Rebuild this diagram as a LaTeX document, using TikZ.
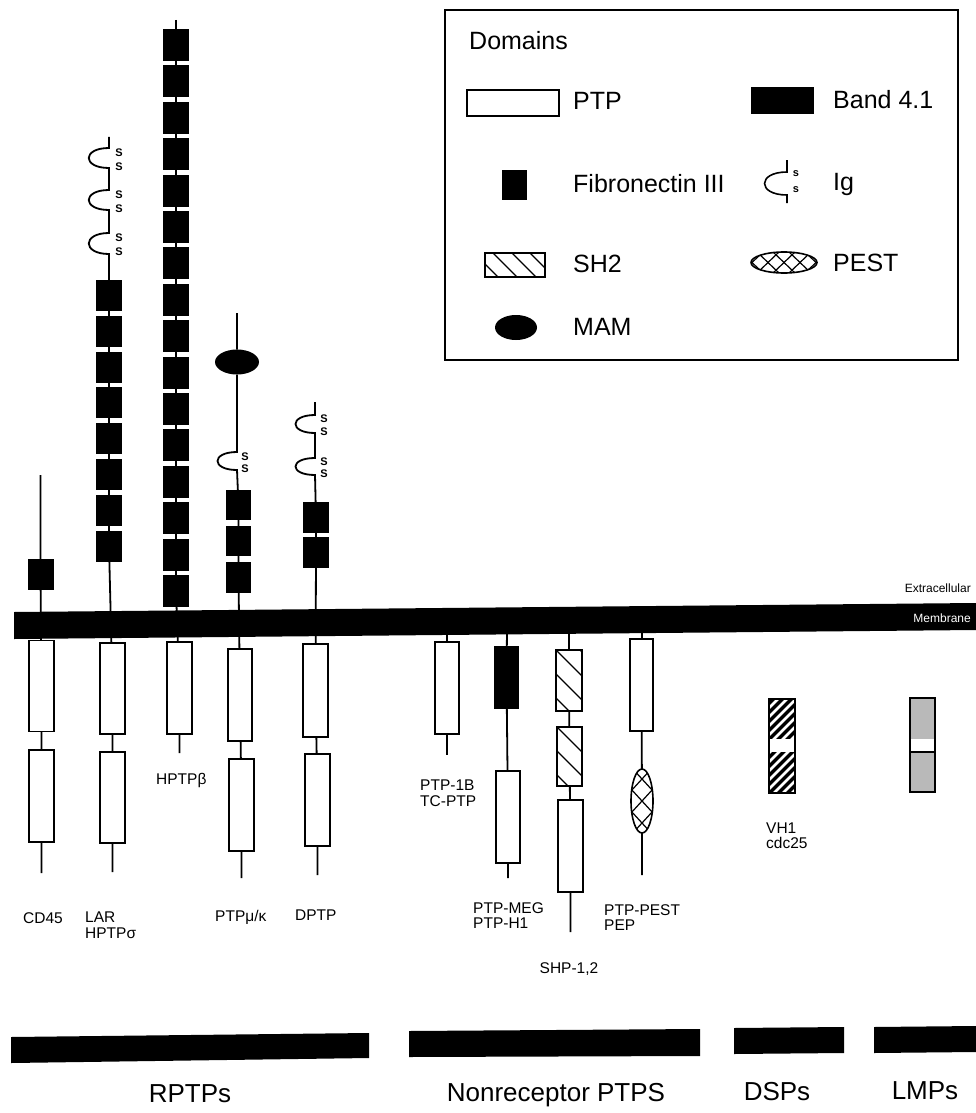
\documentclass[tikz,border=0pt]{standalone}
\usepackage{fontspec}
\setmainfont{Liberation Sans}
\usetikzlibrary{shapes.geometric}
\begin{document}
\begin{tikzpicture}[x=1pt,y=-1pt,
  stemline/.style={line width=1.8pt},
  dombox/.style={draw, line width=1.8pt, fill=white, inner sep=0pt, outer sep=0pt, minimum width=25pt, minimum height=92pt},
  fnbox/.style={fill=black, inner sep=0pt, outer sep=0pt, minimum width=26pt, minimum height=31pt},
  bandbox/.style={draw, fill=black, line width=1.5pt, inner sep=0pt, outer sep=0pt},
  hatchbox/.style={draw, line width=1.8pt, inner sep=0pt, outer sep=0pt},
  mamshape/.style={ellipse, fill=black, inner sep=0pt, outer sep=0pt},
  pestshape/.style={ellipse, draw, line width=1.6pt, inner sep=0pt, outer sep=0pt},
  hatchline/.style={line width=1.2pt},
  lbl/.style={font=\fontsize{15.5}{18}\selectfont, inner sep=0pt, anchor=base west},
  leg/.style={font=\fontsize{25}{30}\selectfont, inner sep=0pt, anchor=base west},
  grp/.style={font=\fontsize{26}{30}\selectfont, inner sep=0pt, anchor=base},
  sletter/.style={font=\bfseries\fontsize{11}{11}\selectfont, inner sep=0pt},
  memtext/.style={font=\fontsize{12}{12}\selectfont, inner sep=0pt, anchor=east}
]
\useasboundingbox (0,0) rectangle (976,1113);

% ---------------- membrane ----------------
\fill (14,612) -- (976,603) -- (976,630) -- (14,639) -- cycle;
\node[memtext, text=white] (memlbl) at (971,618) {Membrane};
\node[memtext] (extlbl) at (971,588) {Extracellular};

% ---------------- hatching (drawn first) ----------------
\begin{scope}
  \clip (556,650) rectangle (582,711);
  \foreach \t in {-24,0,24,48} \draw[hatchline] (556,{650+\t}) -- ++(26,26);
\end{scope}
\begin{scope}
  \clip (557,727) rectangle (582,786);
  \foreach \t in {-24,0,24,48} \draw[hatchline] (557,{727+\t}) -- ++(26,26);
\end{scope}
\begin{scope}
  \clip (485,253) rectangle (545,277);
  \foreach \t in {474,493,512,530} \draw[hatchline] (\t,253) -- ++(24,24);
\end{scope}
% VH1
\fill (769,699) rectangle (795,793);
\begin{scope}
  \clip (769,699) rectangle (795,793);
  \foreach \t in {0,9,...,126} \draw[white, line width=2.6pt] (769,{699+\t}) -- ++(26,-26);
\end{scope}
\fill[white] (769,739) rectangle (795,752);
% LMP
\fill[gray!55] (910,698) rectangle (935,792);
\fill[white] (910,739) rectangle (935,752);
\draw[line width=1.5pt] (910,752) -- (935,752);
% PEST vertical
\begin{scope}
  \clip (642,801) ellipse [x radius=11, y radius=32];
  \foreach \t in {-56,-34,-12,10,32} {
    \draw[hatchline] (631,{801+\t}) -- (653,{801+\t+24});
    \draw[hatchline] (653,{801+\t}) -- (631,{801+\t+24});
  }
\end{scope}
% PEST legend
\begin{scope}
  \clip (784,262.5) ellipse [x radius=33, y radius=10.5];
  \foreach \t in {-48,-32,-16,0,16,32,48} {
    \draw[hatchline] ({784+\t-12},251) -- ({784+\t+12},274);
    \draw[hatchline] ({784+\t+12},251) -- ({784+\t-12},274);
  }
\end{scope}

% ---------------- CD45 ----------------
\coordinate (cdtop) at (40.5,475);
\node[fnbox] (cdfn) at (40.5,574.5) {};
\node[dombox, minimum height=91pt] (cda) at (41.5,686) {};
\node[dombox] (cdb) at (41.5,796) {};
\coordinate (cdend) at (41.5,873);
\draw[stemline] (cdtop) -- (cdfn) -- (cda) -- (cdb) -- (cdend);

% ---------------- LAR ----------------
\coordinate (lartop) at (109,137);
\foreach \i in {0,...,7} \node[fnbox] (lar\i) at (109,{295.5+\i*35.8}) {};
\draw[stemline] (lartop) -- (109,148) .. controls (82,148) and (82,168) .. (109,168)
  -- (109,190) .. controls (82,190) and (82,210) .. (109,210)
  -- (109,233) .. controls (82,233) and (82,254) .. (109,254) -- (lar0);
\foreach \i [evaluate=\i as \j using int(\i+1)] in {0,...,6} \draw[stemline] (lar\i) -- (lar\j);
\foreach \y in {153,167,195,209,238,252} \node[sletter] (lars\y) at (119,\y) {S};
\node[dombox, minimum height=91pt] (lara) at (112.5,688.5) {};
\node[dombox, minimum height=91pt] (larb) at (112.5,797.5) {};
\coordinate (larend) at (112.5,872);
\draw[stemline] (lar7) -- (lara) -- (larb) -- (larend);

% ---------------- HPTPbeta ----------------
\coordinate (hbtop) at (176,20);
\foreach \i in {0,...,15} \node[fnbox, minimum height=32pt] (hb\i) at (176,{45+\i*36.4}) {};
\draw[stemline] (hbtop) -- (hb0);
\foreach \i [evaluate=\i as \j using int(\i+1)] in {0,...,14} \draw[stemline] (hb\i) -- (hb\j);
\node[dombox] (hba) at (179.5,688) {};
\coordinate (hbend) at (179.5,753);
\draw[stemline] (hb15) -- (hba) -- (hbend);

% ---------------- PTPmu/kappa ----------------
\coordinate (mutop) at (237,313);
\node[mamshape, minimum width=44pt, minimum height=25pt] (mumam) at (237,362) {};
\node[fnbox, minimum width=25pt, minimum height=30pt] (mu0) at (238.5,505) {};
\node[fnbox, minimum width=25pt, minimum height=30pt] (mu1) at (238.5,541) {};
\node[fnbox, minimum width=25pt, minimum height=31pt] (mu2) at (238.5,577.5) {};
\node[dombox, minimum width=24pt] (mua) at (240,695) {};
\node[dombox] (mub) at (241.5,805) {};
\coordinate (muend) at (241.5,878);
\draw[stemline] (mutop) -- (mumam) -- (237,452) .. controls (211,452) and (211,470) .. (237,470)
  -- (mu0) -- (mu1) -- (mu2) -- (mua) -- (mub) -- (muend);
\node[sletter] (mus1) at (245,457) {S};
\node[sletter] (mus2) at (245,469) {S};

% ---------------- DPTP ----------------
\coordinate (dptop) at (315,402);
\node[fnbox] (dp0) at (316,517.5) {};
\node[fnbox] (dp1) at (316,552.5) {};
\node[dombox, minimum height=93pt] (dpa) at (315.5,690.5) {};
\node[dombox] (dpb) at (317.5,800) {};
\coordinate (dpend) at (317.5,875);
\draw[stemline] (dptop) -- (315,415) .. controls (289,415) and (289,433) .. (315,433)
  -- (315,458) .. controls (289,458) and (289,475) .. (315,475)
  -- (dp0) -- (dp1) -- (dpa) -- (dpb) -- (dpend);
\foreach \y in {419,432,462,474} \node[sletter] (dps\y) at (324,\y) {S};

% ---------------- PTP-1B ----------------
\coordinate (n1m) at (447,630);
\node[dombox, minimum width=24pt] (n1a) at (447,688) {};
\coordinate (n1end) at (447,755);
\draw[stemline] (n1m) -- (n1a) -- (n1end);

% ---------------- PTP-MEG ----------------
\coordinate (megm) at (507,630);
\node[bandbox, minimum width=24pt, minimum height=61pt] (megband) at (506.5,677.5) {};
\node[dombox, minimum width=24pt] (mega) at (508,817) {};
\coordinate (megend) at (508,878);
\draw[stemline] (megm) -- (megband) -- (mega) -- (megend);

% ---------------- SHP-1,2 ----------------
\coordinate (shpm) at (569,630);
\node[hatchbox, minimum width=26pt, minimum height=61pt] (shp1) at (569,680.5) {};
\node[hatchbox, minimum width=25pt, minimum height=59pt] (shp2) at (569.5,756.5) {};
\node[dombox] (shpa) at (570.5,846) {};
\coordinate (shpend) at (570.5,932);
\draw[stemline] (shpm) -- (shp1) -- (shp2) -- (shpa) -- (shpend);

% ---------------- PTP-PEST ----------------
\coordinate (pem) at (642,630);
\node[dombox, minimum width=23pt] (pea) at (641.5,685) {};
\node[pestshape, minimum width=22pt, minimum height=64pt] (pest) at (642,801) {};
\coordinate (peend) at (642,875);
\draw[stemline] (pem) -- (pea) -- (pest) -- (peend);

% ---------------- DSP / LMP ----------------
\node[hatchbox, minimum width=26pt, minimum height=94pt] (vh1) at (782,746) {};
\node[hatchbox, minimum width=25pt, minimum height=94pt] (lmp) at (922.5,745) {};

% ---------------- protein labels ----------------
\node[lbl] (lcd45) at (23,923) {CD45};
\node[lbl] (llar) at (85,922) {LAR};
\node[lbl] (lhptps) at (85,938) {HPTPσ};
\node[lbl] (lhptpb) at (156,784) {HPTPβ};
\node[lbl] (lmu) at (215,921) {PTPμ/κ};
\node[lbl] (ldptp) at (295,920) {DPTP};
\node[lbl] (l1b) at (420,790) {PTP-1B};
\node[lbl] (ltc) at (420,806) {TC-PTP};
\node[lbl] (lmeg) at (473,913) {PTP-MEG};
\node[lbl] (lh1) at (473,928) {PTP-H1};
\node[lbl, anchor=base] (lshp) at (569,973) {SHP-1,2};
\node[lbl] (lpest) at (604,915) {PTP-PEST};
\node[lbl] (lpep) at (604,930) {PEP};
\node[lbl] (lvh1) at (766,833) {VH1};
\node[lbl] (lcdc) at (766,848) {cdc25};

% ---------------- legend ----------------
\draw[line width=2pt] (445,10) rectangle (958,360);
\node[leg] (legtitle) at (469,50) {Domains};
\node[dombox, minimum width=92pt, minimum height=26pt] (legptp) at (513,103) {};
\node[leg] (legptpt) at (573,110) {PTP};
\node[bandbox, minimum width=61pt, minimum height=25pt] (legband) at (782.5,100.5) {};
\node[leg] (legbandt) at (833,109) {Band 4.1};
\node[fnbox, minimum width=25pt, minimum height=30pt] (legfn) at (514.5,185) {};
\node[leg] (legfnt) at (573,192) {Fibronectin III};
\coordinate (igtop) at (787,160);
\coordinate (igbot) at (787,203);
\draw[line width=1.6pt] (igtop) -- (787,172) .. controls (757,172) and (757,195) .. (787,195) -- (igbot);
\node[sletter] (legs1) at (796,174) {s};
\node[sletter] (legs2) at (796,190) {s};
\node[leg] (legigt) at (833,190) {Ig};
\node[hatchbox, minimum width=60pt, minimum height=24pt] (legsh2) at (515,265) {};
\node[leg] (legsh2t) at (573,272) {SH2};
\node[pestshape, minimum width=66pt, minimum height=21pt] (legpest) at (784,262.5) {};
\node[leg] (legpestt) at (833,271) {PEST};
\node[mamshape, minimum width=42pt, minimum height=25pt] (legmam) at (516,327.5) {};
\node[leg] (legmamt) at (573,335) {MAM};

% ---------------- group bars ----------------
\fill (11,1037) -- (369,1033) -- (369,1058) -- (11,1063) -- cycle;
\fill (409,1031) -- (700,1029) -- (700,1056) -- (409,1057) -- cycle;
\fill (734,1028) -- (844,1027) -- (844,1053) -- (734,1054) -- cycle;
\fill (874,1027) -- (976,1026) -- (976,1052) -- (874,1053) -- cycle;
\node[grp] (grp1) at (190,1102) {RPTPs};
\node[grp] (grp2) at (556,1101) {Nonreceptor PTPS};
\node[grp] (grp3) at (777,1100) {DSPs};
\node[grp] (grp4) at (925,1099) {LMPs};
\end{tikzpicture}
\end{document}
